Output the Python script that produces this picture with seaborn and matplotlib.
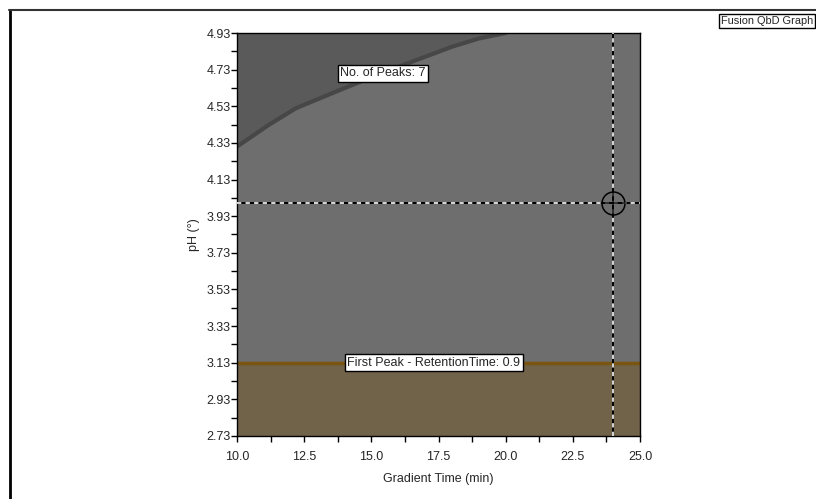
import numpy as np
import pandas as pd
import matplotlib
matplotlib.use("Agg")
import matplotlib.pyplot as plt
from matplotlib.lines import Line2D
from matplotlib.ticker import FixedLocator
import seaborn as sns

# Design-space boundaries (Gradient Time in min, pH)
peaks_edge_time = [10.0, 11.2, 12.2, 14.1, 16.0, 18.0, 19.0, 20.0]
peaks_edge_ph = [4.31, 4.43, 4.52, 4.635, 4.745, 4.855, 4.90, 4.93]
retention_edge_ph = 3.13

# Working point
setpoint_time = 24.0
setpoint_ph = 4.00

x_ticks = [10.0, 12.5, 15.0, 17.5, 20.0, 22.5, 25.0]
y_ticks = [2.73, 2.93, 3.13, 3.33, 3.53, 3.73, 3.93, 4.13, 4.33, 4.53, 4.73, 4.93]

peaks_label = "No. of Peaks: 7"
retention_label = "First Peak - RetentionTime: 0.9"
corner_label = "Fusion QbD Graph"

sns.set_style("white")
plt.rcParams["font.family"] = ["Liberation Sans", "DejaVu Sans"]

fig = plt.figure(figsize=(8.16, 4.99), dpi=100)
ax = fig.add_axes([237 / 816, 1 - 436 / 499, 403 / 816, 403 / 499])

xmin, xmax = x_ticks[0], x_ticks[-1]
ymin, ymax = y_ticks[0], y_ticks[-1]

# Background region
ax.set_facecolor("#6e6e6e")

# Peak-count failure region (upper left)
ax.fill_between(peaks_edge_time, peaks_edge_ph, ymax, color="#5a5a5a", lw=0, zorder=1)
edge = pd.DataFrame({"time": peaks_edge_time, "ph": peaks_edge_ph})
sns.lineplot(data=edge, x="time", y="ph", ax=ax, color="#474747", lw=3,
             sort=False, zorder=2)

# Retention-time failure region (bottom)
ax.fill_between([xmin, xmax], ymin, retention_edge_ph, color="#71624a", lw=0, zorder=1)
ax.axhline(retention_edge_ph, color="#7a5510", lw=2.5, zorder=2)

# Crosshair at the working point
for kw in (dict(color="black", lw=1.4, ls="-"),
           dict(color="#d8d8d8", lw=1.4, ls=(0, (2.2, 2.2)))):
    ax.axvline(setpoint_time, zorder=3, **kw)
    ax.axhline(setpoint_ph, zorder=3, **kw)
ax.plot([setpoint_time], [setpoint_ph], marker="o", ms=16.5, mfc="none",
        mec="black", mew=1.1, zorder=4)
ax.plot([setpoint_time], [setpoint_ph], marker="+", ms=16.5, mec="black",
        mew=1.1, zorder=4)

box = dict(boxstyle="square,pad=0.2", fc="white", ec="black", lw=1)
ax.text(15.43, 4.71, peaks_label, ha="center", va="center", fontsize=9,
        bbox=box, zorder=5)
ax.text(17.33, retention_edge_ph, retention_label, ha="center", va="center",
        fontsize=9, bbox=box, zorder=5)

ax.set_xlim(xmin, xmax)
ax.set_ylim(ymin, ymax)
ax.xaxis.set_major_locator(FixedLocator(x_ticks))
ax.yaxis.set_major_locator(FixedLocator(y_ticks))
ax.xaxis.set_minor_locator(FixedLocator(np.arange(xmin, xmax + 0.01, 1.25)))
ax.yaxis.set_minor_locator(FixedLocator(np.arange(ymin, ymax + 0.01, 0.1)))
ax.set_xticklabels([f"{v:.1f}" for v in x_ticks])
ax.set_yticklabels([f"{v:.2f}" for v in y_ticks])
ax.tick_params(axis="both", which="both", direction="out", length=4, width=1,
               color="black", labelsize=9, left=True, bottom=True)
ax.tick_params(axis="x", pad=7)
ax.tick_params(axis="y", pad=0.5)
ax.set_xlabel("Gradient Time (min)", fontsize=9, labelpad=7)
ax.set_ylabel("pH (°)", fontsize=9, labelpad=5)
for s in ax.spines.values():
    s.set_color("black")
    s.set_linewidth(1)

# Outer frame and caption
fig.add_artist(Line2D([9.5 / 816, 9.5 / 816], [0, 1 - 10 / 499], color="black",
                      lw=2, transform=fig.transFigure))
fig.add_artist(Line2D([9 / 816, 1], [1 - 10 / 499, 1 - 10 / 499], color="#333333",
                      lw=1.5, transform=fig.transFigure))
fig.text(721 / 816, 1 - 21 / 499, corner_label, ha="left", va="center",
         fontsize=7.9, bbox=dict(boxstyle="square,pad=0.2", fc="white",
                                 ec="black", lw=1))

fig.savefig("out.png", dpi=100)
